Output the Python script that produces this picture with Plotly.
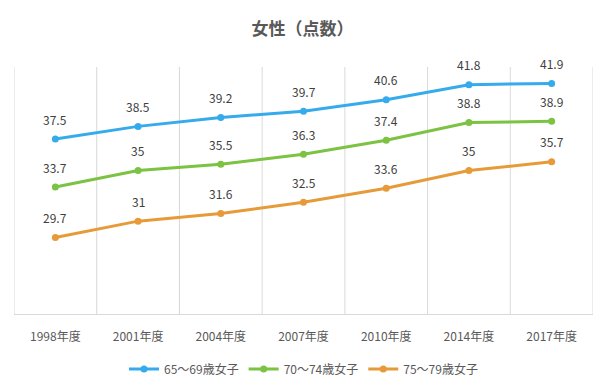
import plotly.graph_objects as go

categories = ["1998年度", "2001年度", "2004年度", "2007年度", "2010年度", "2014年度", "2017年度"]
series_names = ["65～69歳女子", "70～74歳女子", "75～79歳女子"]
s65 = [37.5, 38.5, 39.2, 39.7, 40.6, 41.8, 41.9]
s70 = [33.7, 35, 35.5, 36.3, 37.4, 38.8, 38.9]
s75 = [29.7, 31, 31.6, 32.5, 33.6, 35, 35.7]
colors = ["#36ABEC", "#7CC243", "#E69B38"]

FONT = "Noto Sans CJK JP"
fig = go.Figure()
annotations = []
for name, vals, col in zip(series_names, [s65, s70, s75], colors):
    fig.add_trace(go.Scatter(
        x=categories, y=vals, name=name, mode="lines+markers",
        line=dict(color=col, width=3),
        marker=dict(color=col, size=7),
    ))
    for c, v in zip(categories, vals):
        annotations.append(dict(
            x=c, y=v, xref="x", yref="y", text=str(v), showarrow=False,
            yshift=20, font=dict(family=FONT, size=12, color="#404040"),
        ))

fig.update_layout(
    width=605, height=378,
    margin=dict(l=14, r=12, t=67, b=64, autoexpand=False),
    paper_bgcolor="white", plot_bgcolor="white",
    title=dict(text="<b>女性（点数）</b>", x=0.5, xanchor="center", y=1 - 29/378, yanchor="middle",
               font=dict(family=FONT, size=17, color="#595959")),
    font=dict(family=FONT, size=12, color="#595959"),
    showlegend=True,
    legend=dict(orientation="h", x=0.5, xanchor="center", yref="container", y=9/378, yanchor="middle",
                font=dict(family=FONT, size=12, color="#595959"), itemwidth=30),
    annotations=annotations,
)
fig.update_xaxes(
    showgrid=False, showline=True, linecolor="#D9D9D9", linewidth=1, mirror=False,
    ticks="", tickfont=dict(family=FONT, size=12, color="#595959"), automargin=False,
    ticklabelstandoff=12,
    range=[-0.5, len(categories) - 0.5],
)
# vertical category dividers
for i in range(len(categories) + 1):
    fig.add_shape(type="line", xref="x", yref="paper", x0=i - 0.5, x1=i - 0.5, y0=0, y1=1,
                  line=dict(color="#D9D9D9", width=1), layer="below")
fig.update_yaxes(visible=False, range=[23.65, 43.2], showgrid=False, zeroline=False)

fig.write_html("out.html", config={"displayModeBar": False},
               post_script="document.body.style.margin='0';document.body.style.overflow='hidden';")
